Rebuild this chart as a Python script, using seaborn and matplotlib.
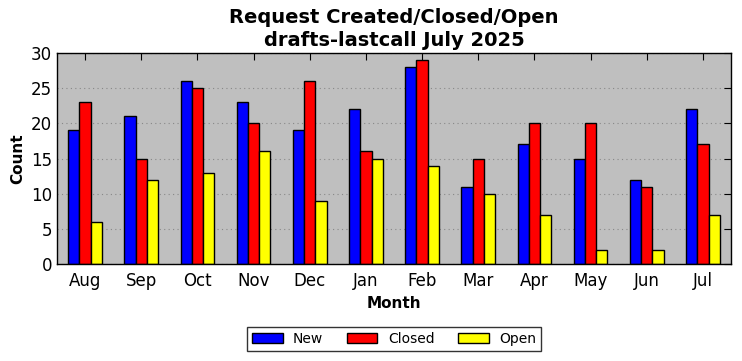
import matplotlib
matplotlib.use("Agg")
import matplotlib.pyplot as plt
import seaborn as sns
import pandas as pd

months = ["Aug", "Sep", "Oct", "Nov", "Dec", "Jan", "Feb", "Mar", "Apr", "May", "Jun", "Jul"]
new = [19, 21, 26, 23, 19, 22, 28, 11, 17, 15, 12, 22]
closed = [23, 15, 25, 20, 26, 16, 29, 15, 20, 20, 11, 17]
open_ = [6, 12, 13, 16, 9, 15, 14, 10, 7, 2, 2, 7]
series = ["New", "Closed", "Open"]
colors = ["#0000ff", "#ff0000", "#ffff00"]

df = pd.DataFrame({
    "Month": months * 3,
    "Count": new + closed + open_,
    "Type": [series[0]] * 12 + [series[1]] * 12 + [series[2]] * 12,
})

sns.set_style("white")
plt.rcParams['font.family'] = ['DejaVu Sans']
plt.rcParams['text.color'] = 'black'
plt.rcParams['axes.labelcolor'] = 'black'

fig = plt.figure(figsize=(7.42, 3.61), dpi=100)
ax = fig.add_axes([57/742, 1 - 264/361, (731 - 57)/742, (264 - 53)/361])
sns.barplot(data=df, x="Month", y="Count", hue="Type", order=months, hue_order=series,
            palette=colors, width=0.6, gap=0, edgecolor="black", linewidth=1,
            saturation=1, ax=ax, legend=True)
ax.set_facecolor("#bfbfbf")
ax.set_xlim(-0.5, 11.5)
ax.set_ylim(0, 30)
ax.set_yticks([0, 5, 10, 15, 20, 25, 30])
ax.yaxis.grid(True, linestyle=(0, (1, 3)), color="#888888", linewidth=0.8)
ax.set_axisbelow(True)
for s in ax.spines.values():
    s.set_color("black")
    s.set_linewidth(1)
ax.tick_params(axis="both", direction="in", top=True, right=True, length=5,
               width=0.8, labelsize=12, color="black", labelcolor="black")
ax.tick_params(axis="x", pad=6)
ax.set_xlabel("Month", fontsize=11, fontweight="bold", color="black")
ax.set_ylabel("Count", fontsize=11, fontweight="bold", color="black")
ax.set_title("Request Created/Closed/Open\ndrafts-lastcall July 2025",
             fontsize=14, fontweight="bold", linespacing=1.25, pad=5, color="black")

h, l = ax.get_legend_handles_labels()
leg = ax.legend(h, l, loc="upper center", bbox_to_anchor=(0.5, -0.265), ncol=3,
                frameon=True, fancybox=False, edgecolor="black", fontsize=10,
                handlelength=2.2, handleheight=0.7, columnspacing=1.7, borderpad=0.35,
                handletextpad=0.75)
leg.get_frame().set_linewidth(1)
for t in leg.get_texts():
    t.set_color("black")

fig.savefig("out.png", dpi=100, facecolor="white")
